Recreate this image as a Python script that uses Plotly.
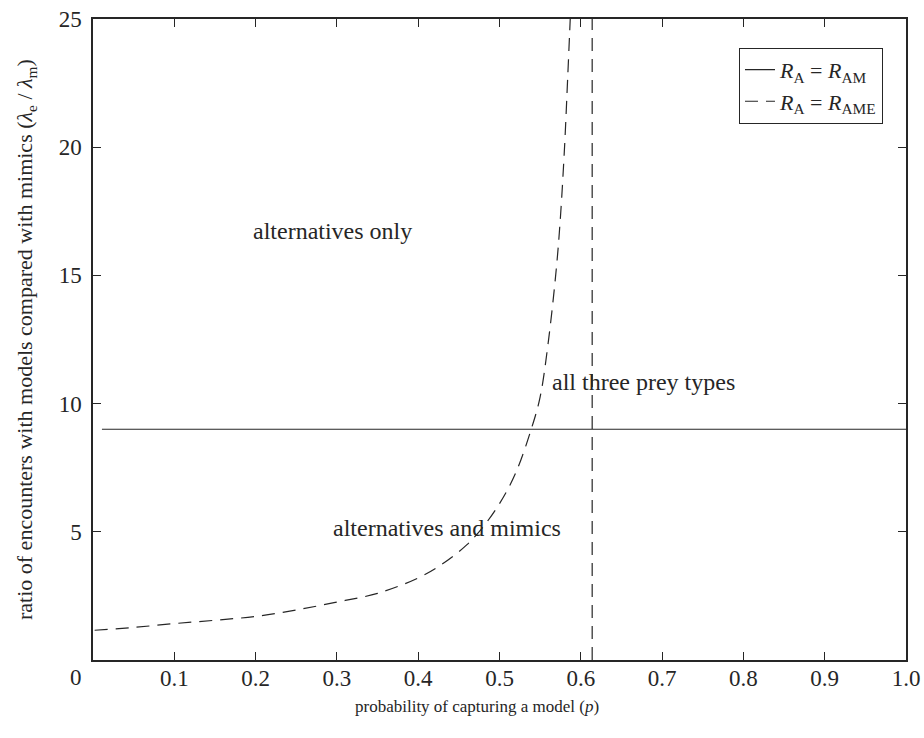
import plotly.graph_objects as go

# ---- data ----
p_curve = [0.002, 0.05, 0.10, 0.15, 0.20, 0.25, 0.30, 0.35, 0.40, 0.43, 0.46,
           0.48, 0.50, 0.52, 0.54, 0.55, 0.56, 0.57, 0.575, 0.58, 0.584, 0.587]
ratio_curve = [1.16, 1.27, 1.42, 1.55, 1.70, 1.95, 2.26, 2.60, 3.20, 3.75, 4.50,
               5.20, 6.10, 7.30, 9.10, 10.26, 12.4, 15.3, 17.3, 20.0, 22.8, 25.0]

p_flat = [0.011, 1.0]
ratio_flat = [9.0, 9.0]

p_vert = [0.614, 0.614]
ratio_vert = [0.0, 25.0]

x_ticks = [0.1, 0.2, 0.3, 0.4, 0.5, 0.6, 0.7, 0.8, 0.9, 1.0]
x_ticklabels = ["0.1", "0.2", "0.3", "0.4", "0.5", "0.6", "0.7", "0.8", "0.9", "1.0"]
y_ticks = [5, 10, 15, 20, 25]
y_ticklabels = ["5", "10", "15", "20", "25"]

region_labels = ["alternatives only", "all three prey types", "alternatives and mimics"]
region_x = [0.295, 0.677, 0.435]
region_y = [16.75, 10.83, 5.14]

x_title = "probability of capturing a model (<i>p</i>)"
y_title = ("ratio of encounters with models compared with mimics "
           "(<i>λ</i><sub>e</sub> / <i>λ</i><sub>m</sub>)")

FONT = "Liberation Serif, Times New Roman, serif"
INK = "#262626"

fig = go.Figure()
fig.add_trace(go.Scatter(x=p_flat, y=ratio_flat, mode="lines",
                         line=dict(color=INK, width=1.2),
                         name="<i>R</i><sub>A</sub> = <i>R</i><sub>AM</sub>"))
fig.add_trace(go.Scatter(x=p_curve, y=ratio_curve, mode="lines",
                         line=dict(color=INK, width=1.2, dash="13px,8px"),
                         line_shape="spline",
                         name="<i>R</i><sub>A</sub> = <i>R</i><sub>AME</sub>"))
fig.add_trace(go.Scatter(x=p_vert, y=ratio_vert, mode="lines",
                         line=dict(color=INK, width=1.2, dash="13px,8px"),
                         showlegend=False))

for t, x, y in zip(region_labels, region_x, region_y):
    fig.add_annotation(x=x, y=y, text=t, showarrow=False,
                       font=dict(family=FONT, size=24, color=INK))

# shared origin label at the lower-left corner
fig.add_annotation(x=-0.0205, y=-0.0275, xref="paper", yref="paper", text="0",
                   showarrow=False, xanchor="center", yanchor="middle",
                   font=dict(family=FONT, size=23, color=INK))

# axis titles
fig.add_annotation(x=0.472, y=-0.073, xref="paper", yref="paper", text=x_title,
                   showarrow=False, xanchor="center", yanchor="middle",
                   font=dict(family=FONT, size=17, color=INK))
fig.add_annotation(x=-0.083, y=0.5, xref="paper", yref="paper", text=y_title,
                   showarrow=False, textangle=-90, xanchor="center", yanchor="middle",
                   font=dict(family=FONT, size=22, color=INK))

axis_common = dict(showgrid=False, zeroline=False, showline=True, linecolor=INK,
                   linewidth=1.5, mirror="ticks", ticks="inside", ticklen=8,
                   tickcolor=INK, tickwidth=1, automargin=False,
                   ticklabeloverflow="allow",
                   tickfont=dict(family=FONT, size=23, color=INK))

fig.update_xaxes(range=[0, 1], tickvals=x_ticks, ticktext=x_ticklabels,
                 ticklabelstandoff=-3, **axis_common)
fig.update_yaxes(range=[0, 25], tickvals=y_ticks, ticktext=y_ticklabels,
                 ticklabelstandoff=5, **axis_common)

fig.update_layout(
    width=924, height=738,
    margin=dict(l=93, r=18, t=19, b=78),
    paper_bgcolor="white", plot_bgcolor="white",
    font=dict(family=FONT, size=20, color=INK),
    legend=dict(x=0.9717, y=0.955, xanchor="right", yanchor="top",
                bordercolor=INK, borderwidth=1, bgcolor="white",
                font=dict(family=FONT, size=22, color=INK),
                itemwidth=30, tracegroupgap=0),
)

fig.write_html("out.html", config={"displayModeBar": False},
               post_script="document.body.style.margin='0px';"
                           "document.body.style.overflow='hidden';")
